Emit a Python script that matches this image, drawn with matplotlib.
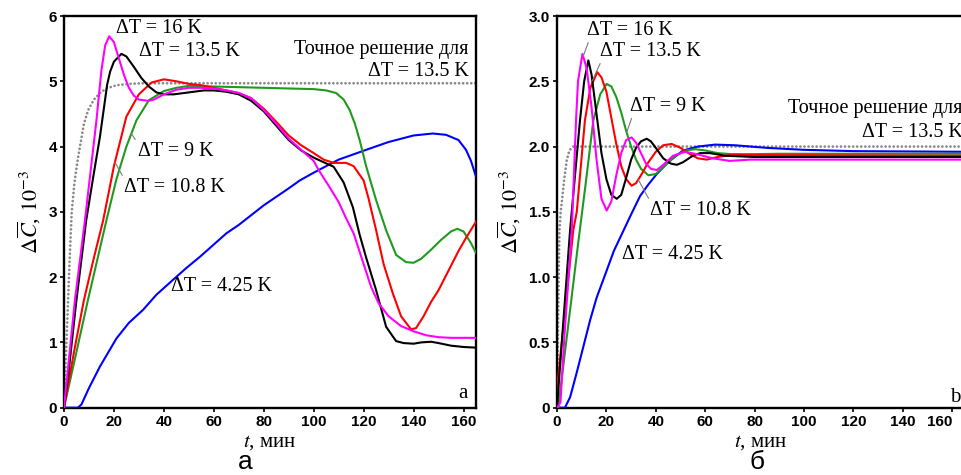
import matplotlib.pyplot as plt
import numpy as np

plt.rcParams['mathtext.fontset'] = 'stix'
plt.rcParams['font.family'] = ['Liberation Serif', 'DejaVu Serif']

# --- panel a: time axes (min) and concentration change (10^-3) ---
t_a16 = [0, 4.4, 8.4, 13, 15, 16.5, 18.1, 20, 22, 24, 26, 28, 30, 33.8, 36, 40, 45, 50, 55, 60,
         65, 70, 75, 80, 85, 90, 95, 100, 102, 106, 110, 113, 116, 120, 123, 126, 130, 135, 140,
         145, 150, 155, 165]
c_a16 = [0, 1.65, 2.87, 4.4, 5.17, 5.55, 5.69, 5.6, 5.35, 5.1, 4.9, 4.78, 4.72, 4.7, 4.72, 4.8,
         4.87, 4.9, 4.9, 4.89, 4.86, 4.82, 4.74, 4.56, 4.35, 4.12, 3.95, 3.78, 3.64, 3.4, 3.15,
         2.9, 2.67, 2.2, 1.85, 1.6, 1.4, 1.25, 1.17, 1.11, 1.08, 1.07, 1.07]

t_a135 = [0, 2, 5, 8.9, 12, 14.4, 17.3, 18.5, 20, 23, 25, 28, 31, 34, 37, 40, 44, 48, 52, 56, 60,
          65, 70, 75, 80, 85, 90, 95, 100, 104, 108, 112, 115.7, 118.4, 121, 125, 129, 133, 136,
          140, 143, 147, 150, 155, 160, 165]
c_a135 = [0, 0.6, 1.65, 2.87, 3.6, 4.15, 4.95, 5.15, 5.3, 5.42, 5.38, 5.22, 5.05, 4.92, 4.83,
          4.8, 4.8, 4.82, 4.84, 4.86, 4.86, 4.84, 4.8, 4.7, 4.54, 4.32, 4.1, 3.94, 3.83, 3.76,
          3.69, 3.45, 3.07, 2.65, 2.3, 1.8, 1.24, 1.02, 0.99, 0.98, 1.0, 1.01, 0.99, 0.95, 0.93,
          0.92]

t_a108 = [0, 4, 8, 12, 15.7, 20, 25, 30, 35, 40, 45, 50, 55, 60, 65, 70, 75, 80, 85, 90, 95, 100,
          104, 108, 113, 116, 120, 122, 125, 128, 131.7, 135, 139, 141, 144, 147, 150, 154, 158,
          161, 165]
c_a108 = [0, 0.85, 1.65, 2.3, 2.87, 3.7, 4.46, 4.8, 4.98, 5.03, 5.0, 4.96, 4.94, 4.9, 4.86, 4.82,
          4.74, 4.58, 4.38, 4.17, 4.02, 3.9, 3.8, 3.75, 3.75, 3.7, 3.48, 3.2, 2.72, 2.2, 1.75,
          1.4, 1.2, 1.22, 1.4, 1.62, 1.8, 2.1, 2.4, 2.6, 2.85]

t_a9 = [0, 4.8, 9.6, 17, 21, 25, 29, 34, 40, 45, 50, 60, 70, 80, 90, 100, 105, 109, 112, 114.4,
        116.5, 118.4, 121, 125, 129, 133, 137, 140, 143, 147, 151, 155, 157.5, 160, 163, 165]
c_a9 = [0, 0.82, 1.65, 2.87, 3.5, 4.0, 4.4, 4.71, 4.85, 4.9, 4.93, 4.92, 4.91, 4.9, 4.89, 4.88,
        4.86, 4.82, 4.72, 4.56, 4.35, 4.1, 3.7, 3.18, 2.72, 2.34, 2.23, 2.22, 2.28, 2.42, 2.57,
        2.7, 2.74, 2.7, 2.52, 2.37]

t_a425 = [0, 5.6, 7, 10, 14.4, 21, 26, 31.7, 37, 43.7, 49, 54.4, 60, 65, 70, 80, 90, 94.4, 100,
          110, 121, 130, 140, 147.7, 153, 158, 161, 163, 165]
c_a425 = [0, 0, 0.05, 0.3, 0.63, 1.06, 1.3, 1.5, 1.73, 1.96, 2.14, 2.31, 2.5, 2.67, 2.8, 3.1,
          3.36, 3.48, 3.6, 3.8, 3.95, 4.07, 4.17, 4.2, 4.18, 4.1, 3.95, 3.78, 3.54]

t_a_exact = [0, 0.8, 1.5, 2.3, 3.1, 4.2, 5.3, 6.4, 8, 9.7, 12, 14.4, 17, 21, 26, 32, 40, 165]
c_a_exact = [0, 0.8, 1.5, 2.3, 3.0, 3.45, 3.75, 4.0, 4.35, 4.56, 4.72, 4.82, 4.89, 4.94, 4.96,
             4.97, 4.97, 4.97]

# --- panel б ---
t_b16 = [0, 1.4, 3, 6, 7.7, 8.5, 10.3, 12, 14, 16, 18, 20.1, 22, 24, 26, 28, 30.2, 32, 34, 36,
         38, 40.4, 43, 47, 52, 57, 63, 70, 78, 90, 165]
c_b16 = [0, 0.04, 0.55, 1.36, 2.2, 2.5, 2.71, 2.6, 2.3, 1.9, 1.6, 1.51, 1.58, 1.78, 1.95, 2.05,
         2.07, 2.03, 1.95, 1.87, 1.83, 1.82, 1.86, 1.93, 1.96, 1.94, 1.91, 1.89, 1.9, 1.9, 1.9]

t_b135 = [0, 5.3, 9.3, 11, 12.7, 14, 16, 18, 20, 22, 24.2, 26, 28, 30, 32, 34, 36.3, 38, 40, 43,
          46, 48.5, 51, 55, 58, 62, 68, 80, 165]
c_b135 = [0, 1.36, 2.2, 2.5, 2.66, 2.55, 2.25, 1.95, 1.75, 1.63, 1.6, 1.63, 1.76, 1.9, 1.99,
          2.04, 2.06, 2.04, 1.99, 1.91, 1.87, 1.86, 1.88, 1.93, 1.95, 1.95, 1.93, 1.92, 1.92]

t_b108 = [0, 0.3, 6.6, 8, 11.3, 13.5, 16.3, 18, 20, 22, 24, 26, 28, 30.2, 32, 34, 37, 40, 43,
          46.4, 50, 54, 57, 60.6, 65, 72, 80, 165]
c_b108 = [0, 0.2, 1.36, 1.5, 2.2, 2.45, 2.57, 2.53, 2.42, 2.22, 2.02, 1.85, 1.75, 1.7, 1.72,
          1.78, 1.88, 1.96, 2.01, 2.02, 1.99, 1.94, 1.91, 1.9, 1.92, 1.94, 1.935, 1.93]

t_b9 = [0, 0.5, 8.7, 11.5, 14.7, 17.5, 20.1, 22, 24, 26, 28, 30, 32, 34, 37, 40, 44, 48, 52, 56,
        60, 65, 72, 90, 165]
c_b9 = [0, 0, 1.28, 1.7, 2.2, 2.4, 2.48, 2.46, 2.38, 2.26, 2.12, 2.0, 1.9, 1.83, 1.78, 1.79,
        1.86, 1.93, 1.97, 1.98, 1.97, 1.95, 1.94, 1.945, 1.945]

t_b425 = [0, 3.2, 5.3, 8, 10.7, 13.4, 16, 20.1, 23, 27, 30, 33.6, 37, 40.4, 45, 51, 57, 64, 72,
          85, 100, 120, 165]
c_b425 = [0, 0, 0.08, 0.27, 0.47, 0.67, 0.84, 1.05, 1.2, 1.36, 1.48, 1.62, 1.71, 1.79, 1.88,
          1.97, 2.0, 2.015, 2.01, 1.99, 1.975, 1.965, 1.96]

t_b_exact = [0, 0.6, 1.0, 1.5, 2.2, 3.0, 4.0, 5.0, 6.5, 10, 165]
c_b_exact = [0, 0.9, 1.36, 1.5, 1.62, 1.76, 1.9, 1.97, 2.0, 2.0, 2.0]

x_ticks = [0, 20, 40, 60, 80, 100, 120, 140, 160]
y_ticks_a = [0, 1, 2, 3, 4, 5, 6]
y_ticks_b = [0, 0.5, 1.0, 1.5, 2.0, 2.5, 3.0]
y_ticklabels_b = ['0', '0.5', '1.0', '1.5', '2.0', '2.5', '3.0']

MAGENTA = '#ff00ff'
RED = '#ff0000'
GREEN = '#1f9a1f'
BLUE = '#0000ff'
GRAY = '#8a8a8a'
LEADER = '#7a7a7a'
TXT = 14.5
SANS = ['Liberation Sans', 'DejaVu Sans']


def style_axes(ax, ymax, yticks, yticklabels):
    ax.set_xlim(0, 165)
    ax.set_ylim(0, ymax)
    for s in ax.spines.values():
        s.set_linewidth(1.7)
    ax.set_xticks(x_ticks)
    ax.set_yticks(yticks)
    ax.set_yticklabels(yticklabels)
    ax.tick_params(direction='out', length=3, width=1.2, pad=2)
    for lab in ax.get_xticklabels() + ax.get_yticklabels():
        lab.set_family(SANS)
        lab.set_fontweight('bold')
        lab.set_fontsize(11)
    ax.set_xlabel(r'$t$, мин', fontsize=15, labelpad=3)
    ax.set_ylabel(r'$\Delta\overline{C}$, $10^{-3}$', fontsize=16, labelpad=4)


def draw_curves(ax, series, exact):
    t_ex, c_ex = exact
    ax.plot(t_ex, c_ex, color=GRAY, lw=2.0, linestyle=(0, (0.01, 1.45)),
            dash_capstyle='round', zorder=2)
    for t, c, col in series:
        ax.plot(t, c, color=col, lw=1.5, zorder=3)


def leader(ax, text, tx, ty, t, c, t_at, rel):
    # label with a thin line pointing to the curve at time t_at
    ax.annotate(text, xy=(t_at, np.interp(t_at, t, c)), xytext=(tx, ty),
                fontsize=TXT, ha='left', va='center',
                arrowprops=dict(arrowstyle='-', color=LEADER, lw=0.8,
                                shrinkA=0, shrinkB=0, relpos=rel))


fig = plt.figure(figsize=(9.62, 4.75), dpi=100)
ax1 = fig.add_axes([0.0665, 0.1417, 0.4283, 0.8246])
ax2 = fig.add_axes([0.579, 0.1417, 0.4237, 0.8246])

# panel a
draw_curves(ax1, [(t_a425, c_a425, BLUE), (t_a9, c_a9, GREEN), (t_a108, c_a108, RED),
                  (t_a135, c_a135, 'black'), (t_a16, c_a16, MAGENTA)],
            (t_a_exact, c_a_exact))
style_axes(ax1, 6, y_ticks_a, [str(v) for v in y_ticks_a])
ax1.text(21, 5.81, 'ΔT = 16 K', fontsize=TXT, va='center')
ax1.text(30, 5.45, 'ΔT = 13.5 K', fontsize=TXT, va='center')
leader(ax1, 'ΔT = 9 K', 29.5, 3.92, t_a9, c_a9, 27, (0.03, 0.75))
leader(ax1, 'ΔT = 10.8 K', 24, 3.37, t_a108, c_a108, 20.4, (0.02, 0.8))
ax1.text(43, 1.85, 'ΔT = 4.25 K', fontsize=TXT, va='center')
ax1.text(162, 5.49, 'Точное решение для', fontsize=TXT, ha='right', va='center')
ax1.text(162, 5.15, 'ΔT = 13.5 K', fontsize=TXT, ha='right', va='center')
ax1.text(159.7, 0.22, 'a', fontsize=15, ha='center', va='center')

# panel б
draw_curves(ax2, [(t_b425, c_b425, BLUE), (t_b9, c_b9, GREEN), (t_b108, c_b108, RED),
                  (t_b135, c_b135, 'black'), (t_b16, c_b16, MAGENTA)],
            (t_b_exact, c_b_exact))
style_axes(ax2, 3.0, y_ticks_b, y_ticklabels_b)
# the last tick label sits against the figure edge: keep it inside
ax2.get_xticklabels()[-1].set_horizontalalignment('right')
leader(ax2, 'ΔT = 16 K', 12, 2.89, t_b16, c_b16, 10.6, (0.05, 0.25))
leader(ax2, 'ΔT = 13.5 K', 17.4, 2.73, t_b135, c_b135, 14.3, (0.04, 0.3))
leader(ax2, 'ΔT = 9 K', 29.6, 2.31, t_b9, c_b9, 28.2, (0.05, 0.2))
leader(ax2, 'ΔT = 10.8 K', 37.7, 1.51, t_b108, c_b108, 32.9, (0.03, 0.7))
ax2.text(26.2, 1.17, 'ΔT = 4.25 K', fontsize=TXT, va='center')
ax2.text(164.3, 2.29, 'Точное решение для', fontsize=TXT, ha='right', va='center')
ax2.text(164.3, 2.11, 'ΔT = 13.5 K', fontsize=TXT, ha='right', va='center')
ax2.text(161, 0.08, 'b', fontsize=15, ha='center', va='center')

fig.text(245 / 962, 1 - 474 / 475, 'а', fontsize=19, ha='center', va='bottom', family=SANS)
fig.text(757 / 962, 1 - 474 / 475, 'б', fontsize=19, ha='center', va='bottom', family=SANS)

plt.savefig('out.png', dpi=100)
